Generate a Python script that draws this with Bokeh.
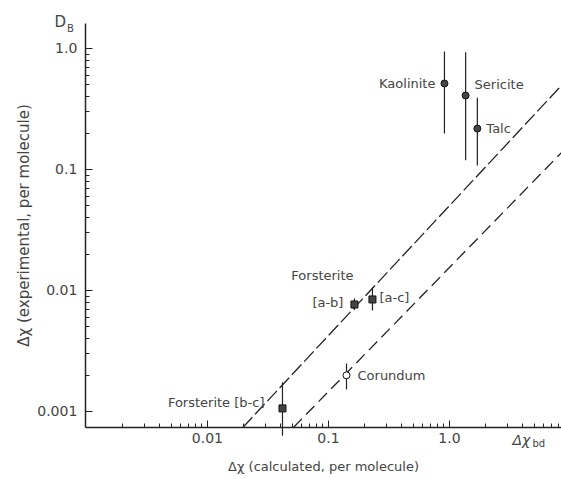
from bokeh.plotting import figure
from bokeh.models import Range1d, FixedTicker, Label
from bokeh.embed import file_html
from bokeh.resources import INLINE

# ---- data ----
clay_names = ["Kaolinite", "Sericite", "Talc"]
clay_calc = [0.909, 1.36, 1.70]
clay_exp = [0.514, 0.409, 0.218]
clay_hi = [0.944, 0.932, 0.392]
clay_lo = [0.198, 0.119, 0.108]

fo_names = ["[a-b]", "[a-c]", "Forsterite [b-c]"]
fo_calc = [0.164, 0.231, 0.0417]
fo_exp = [0.00766, 0.00843, 0.00106]
fo_hi = [0.0086, 0.0106, 0.00174]
fo_lo = [0.0069, 0.00684, 0.00063]

cor_names = ["Corundum"]
cor_calc = [0.141]
cor_exp = [0.00199]
cor_hi = [0.00249]
cor_lo = [0.00152]

upper_x = [0.0196, 8.43]
upper_y = [0.000738, 0.495]
lower_x = [0.0514, 8.43]
lower_y = [0.000738, 0.138]

y_ticks = [0.001, 0.01, 0.1, 1.0]
y_tick_labels = ["0.001", "0.01", "0.1", "1.0"]
x_ticks = [0.01, 0.1, 1.0]
x_tick_labels = ["0.01", "0.1", "1.0"]

# axis extents (data) and visible window (data)
ax_x0, ax_x1 = 0.00098, 8.43
ax_y0, ax_y1 = 0.000738, 1.61
view_x0, view_x1 = 0.000195, 8.43
view_y0, view_y1 = 0.000274, 2.493

minor_all = [k * 10.0 ** e for e in range(-3, 1) for k in range(2, 10)]
x_minor = [v for v in minor_all if ax_x0 < v < ax_x1]
y_minor = [v for v in minor_all if ax_y0 < v < ax_y1]

FONT = "DejaVu Sans"
TXT = "#444444"
INK = "#222222"

p = figure(x_axis_type="log", y_axis_type="log",
           x_range=Range1d(view_x0, view_x1), y_range=Range1d(view_y0, view_y1),
           width=561, height=479,
           min_border_left=0, min_border_right=0, min_border_top=0, min_border_bottom=0,
           output_backend="svg", toolbar_location=None)
p.grid.visible = False
p.outline_line_color = None
p.background_fill_color = "white"
p.border_fill_color = "white"

p.xaxis.fixed_location = ax_y0
p.yaxis.fixed_location = ax_x0
p.xaxis.bounds = (ax_x0, ax_x1)
p.yaxis.bounds = (ax_y0, ax_y1)

p.xaxis.ticker = FixedTicker(ticks=x_ticks, minor_ticks=x_minor)
p.yaxis.ticker = FixedTicker(ticks=y_ticks, minor_ticks=y_minor)
p.xaxis.major_label_overrides = dict(zip(x_ticks, x_tick_labels))
p.yaxis.major_label_overrides = dict(zip(y_ticks, y_tick_labels))

for ax in (p.xaxis, p.yaxis):
    ax.axis_line_color = INK
    ax.axis_line_width = 1.5
    ax.major_tick_line_color = INK
    ax.minor_tick_line_color = INK
    ax.major_tick_in = 7
    ax.major_tick_out = 0
    ax.minor_tick_in = 4
    ax.minor_tick_out = 0
    ax.major_label_text_font = FONT
    ax.major_label_text_font_size = "14px"
    ax.major_label_text_color = TXT
    ax.axis_label_text_font = FONT
    ax.axis_label_text_font_style = "normal"
    ax.axis_label_text_color = TXT

p.xaxis.axis_label = "Δχ (calculated, per molecule)"
p.xaxis.axis_label_text_font_size = "13px"
p.xaxis.major_label_standoff = 6
p.xaxis.axis_label_standoff = 12
p.yaxis.axis_label = "Δχ (experimental, per molecule)"
p.yaxis.axis_label_text_font_size = "15px"
p.yaxis.major_label_standoff = 8
p.yaxis.axis_label_standoff = 1

# fit lines
p.line(upper_x, upper_y, line_color=INK, line_width=1.3, line_dash="14 4")
p.line(lower_x, lower_y, line_color=INK, line_width=1.3, line_dash="12 6")

# error bars
for xs, lo, hi in ((clay_calc, clay_lo, clay_hi), (fo_calc, fo_lo, fo_hi), (cor_calc, cor_lo, cor_hi)):
    p.segment(x0=xs, y0=lo, x1=xs, y1=hi, line_color=INK, line_width=1.2)

# markers
p.scatter(clay_calc, clay_exp, marker="circle", size=7, fill_color="#444444", line_color="#111111", line_width=1)
p.scatter(fo_calc, fo_exp, marker="square", size=7, fill_color="#444444", line_color="#111111", line_width=1)
p.scatter(cor_calc, cor_exp, marker="circle", size=7, fill_color="white", line_color="#111111", line_width=1)

def lab(x, y, text, dx, dy, align="left", size="13px", style="normal", base="middle"):
    p.add_layout(Label(x=x, y=y, text=text, x_offset=dx, y_offset=dy, text_align=align,
                       text_baseline=base, text_font=FONT, text_font_size=size,
                       text_font_style=style, text_color=TXT))

# point labels (offsets in pixels)
clay_off = [(-9, 0, "right"), (9, 11, "left"), (9, 0, "left")]
for n, x, y, (dx, dy, al) in zip(clay_names, clay_calc, clay_exp, clay_off):
    lab(x, y, n, dx, dy, al)
fo_off = [(-11, 2, "right"), (7, 2, "left"), (-18, 6, "right")]
for n, x, y, (dx, dy, al) in zip(fo_names, fo_calc, fo_exp, fo_off):
    lab(x, y, n, dx, dy, al)
lab(fo_calc[0], fo_exp[0], "Forsterite", -32, 29, "center")
for n, x, y in zip(cor_names, cor_calc, cor_exp):
    lab(x, y, n, 11, 0, "left")

# axis decorations
lab(ax_x0, ax_y1, "D", -25, 1, "center", size="15px")
lab(ax_x0, ax_y1, "B", -15, -5, "center", size="10px")
lab(ax_x1, ax_y0, "Δχ", -49, -13, "left", size="14px", style="italic")
lab(ax_x1, ax_y0, "bd", -29, -16, "left", size="10px")

open("out.html", "w").write(file_html(p, INLINE))
